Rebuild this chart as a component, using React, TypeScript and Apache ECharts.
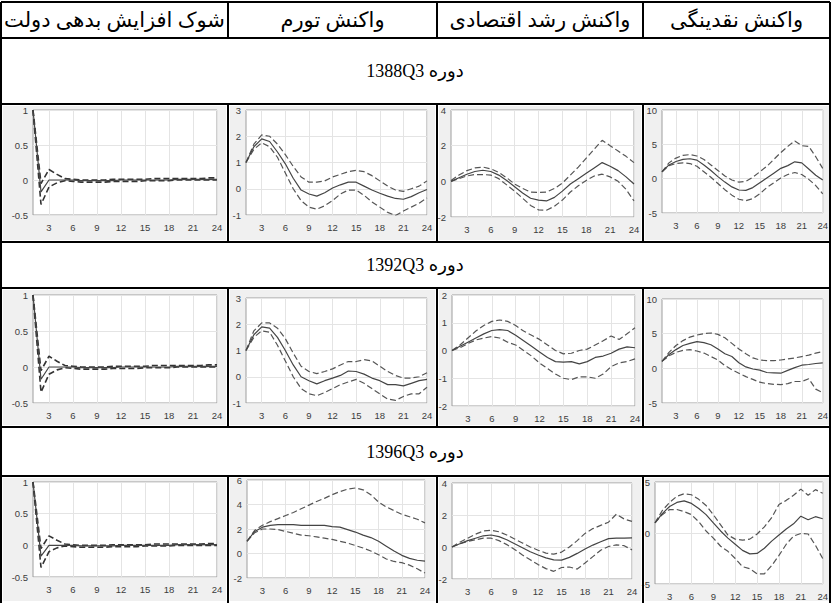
import React, { useEffect, useRef } from "react";
import * as echarts from "echarts";

// ---------- text ----------
const headers = ["شوک افزایش بدهی دولت", "واکنش تورم", "واکنش رشد اقتصادی", "واکنش نقدینگی"];
const periods = ["1388Q3", "1392Q3", "1396Q3"];
const periodWord = "دوره";
const horizons = ["1","2","3","4","5","6","7","8","9","10","11","12","13","14","15","16","17","18","19","20","21","22","23","24"];

// ---------- data ----------
const debtShockMid = [1, -0.17, 0, 0, 0, 0, -0.01, -0.01, -0.01, -0.01, -0.01, 0, 0, 0, 0, 0, 0, 0, 0.01, 0.01, 0.01, 0.01, 0.01, 0.01];
const debtShockLo = [1, -0.35, -0.1, -0.04, -0.01, -0.02, -0.03, -0.03, -0.03, -0.03, -0.02, -0.02, -0.02, -0.02, -0.01, -0.01, -0.01, -0.01, 0, 0, 0, 0, 0, 0];
const debtShockHi = [1, -0.05, 0.15, 0.08, 0.02, 0.01, 0, 0, 0, 0, 0.01, 0.01, 0.01, 0.01, 0.01, 0.02, 0.02, 0.02, 0.02, 0.02, 0.02, 0.02, 0.03, 0.03];

const inflation1388Mid = [1.0, 1.6, 1.9, 1.8, 1.4, 0.95, 0.4, -0.05, -0.2, -0.28, -0.15, 0.03, 0.15, 0.25, 0.25, 0.1, -0.05, -0.17, -0.28, -0.37, -0.4, -0.3, -0.15, -0.03];
const inflation1388Hi = [1.0, 1.7, 2.05, 2.0, 1.7, 1.3, 0.85, 0.45, 0.25, 0.25, 0.3, 0.45, 0.55, 0.65, 0.7, 0.65, 0.5, 0.3, 0.1, -0.05, -0.1, 0.0, 0.1, 0.3];
const inflation1388Lo = [1.0, 1.5, 1.75, 1.6, 1.2, 0.6, 0.0, -0.45, -0.7, -0.78, -0.65, -0.45, -0.2, -0.05, -0.05, -0.25, -0.5, -0.7, -0.9, -1.02, -0.85, -0.7, -0.55, -0.35];

const growth1388Mid = [0.0, 0.2, 0.4, 0.55, 0.62, 0.55, 0.35, 0.05, -0.3, -0.65, -0.95, -1.05, -1.1, -0.9, -0.55, -0.15, 0.15, 0.45, 0.75, 1.05, 0.85, 0.6, 0.25, -0.15];
const growth1388Hi = [0.05, 0.35, 0.6, 0.75, 0.8, 0.7, 0.5, 0.2, -0.15, -0.4, -0.6, -0.62, -0.6, -0.4, -0.1, 0.35, 0.8, 1.3, 1.8, 2.3, 2.0, 1.7, 1.4, 1.05];
const growth1388Lo = [0, 0.15, 0.3, 0.38, 0.38, 0.35, 0.15, -0.2, -0.55, -0.95, -1.35, -1.6, -1.62, -1.4, -1.05, -0.6, -0.25, 0.05, 0.3, 0.4, 0.25, 0.0, -0.45, -1.1];

const liquidity1388Mid = [1.0, 2.0, 2.5, 2.8, 2.9, 2.7, 2.0, 1.2, 0.3, -0.5, -1.2, -1.65, -1.7, -1.3, -0.6, 0.1, 0.8, 1.5, 1.9, 2.45, 2.3, 1.4, 0.5, -0.2];
const liquidity1388Hi = [1.0, 2.3, 3.0, 3.4, 3.5, 3.3, 2.8, 2.0, 1.2, 0.4, -0.2, -0.5, -0.4, 0.2, 1.0, 1.8, 2.8, 3.8, 4.7, 5.5, 4.8, 4.7, 3.2, 1.5];
const liquidity1388Lo = [1.0, 1.9, 2.2, 2.3, 2.2, 1.8, 1.0, 0.2, -0.7, -1.6, -2.4, -3.0, -3.2, -2.9, -2.2, -1.3, -0.6, 0.1, 0.6, 0.9, 0.6, -0.1, -1.0, -2.2];

const inflation1392Mid = [1.0, 1.6, 1.9, 1.85, 1.5, 1.0, 0.45, 0.0, -0.15, -0.27, -0.15, -0.05, 0.05, 0.22, 0.2, 0.1, -0.05, -0.15, -0.3, -0.3, -0.35, -0.25, -0.15, -0.1];
const inflation1392Hi = [1.0, 1.75, 2.05, 2.05, 1.85, 1.45, 0.9, 0.4, 0.2, 0.12, 0.2, 0.3, 0.45, 0.58, 0.58, 0.65, 0.6, 0.4, 0.2, 0.05, -0.05, -0.05, 0.0, 0.15];
const inflation1392Lo = [1.0, 1.5, 1.75, 1.7, 1.2, 0.6, 0.0, -0.45, -0.65, -0.72, -0.6, -0.45, -0.3, -0.2, -0.1, -0.25, -0.45, -0.65, -0.85, -0.9, -0.75, -0.65, -0.65, -0.4];

const growth1392Mid = [0, 0.15, 0.3, 0.45, 0.6, 0.72, 0.75, 0.72, 0.55, 0.35, 0.15, -0.05, -0.25, -0.4, -0.42, -0.4, -0.48, -0.4, -0.25, -0.2, -0.1, 0.05, 0.13, 0.1];
const growth1392Hi = [0, 0.2, 0.45, 0.7, 0.9, 1.05, 1.1, 1.05, 0.9, 0.7, 0.55, 0.4, 0.2, 0.0, -0.12, -0.1, 0.0, 0.05, 0.2, 0.35, 0.52, 0.4, 0.6, 0.82];
const growth1392Lo = [0, 0.1, 0.25, 0.38, 0.45, 0.5, 0.45, 0.3, 0.2, 0.0, -0.2, -0.45, -0.65, -0.85, -1.0, -1.05, -0.95, -0.95, -1.0, -0.85, -0.58, -0.45, -0.4, -0.3];

const liquidity1392Mid = [1.0, 2.0, 2.7, 3.3, 3.6, 3.85, 3.7, 3.4, 2.8, 2.1, 1.7, 0.8, 0.2, -0.1, -0.25, -0.6, -0.65, -0.7, -0.3, 0.1, 0.45, 0.55, 0.7, 0.8];
const liquidity1392Hi = [1.0, 2.3, 3.3, 4.0, 4.5, 4.8, 5.0, 5.1, 4.9, 4.4, 3.6, 2.8, 2.1, 1.5, 1.2, 1.1, 1.1, 1.2, 1.35, 1.5, 1.7, 1.9, 2.2, 2.4];
const liquidity1392Lo = [1.0, 1.8, 2.3, 2.6, 2.7, 2.5, 2.2, 1.7, 1.2, 0.4, -0.2, -0.7, -1.2, -1.6, -2.0, -2.2, -2.3, -2.35, -2.2, -1.9, -1.9, -1.5, -3.0, -3.5];

const inflation1396Mid = [1.0, 1.8, 2.15, 2.3, 2.35, 2.35, 2.35, 2.3, 2.3, 2.3, 2.3, 2.2, 2.15, 1.95, 1.75, 1.5, 1.3, 1.0, 0.6, 0.2, -0.15, -0.4, -0.55, -0.62];
const inflation1396Hi = [1.0, 1.9, 2.3, 2.6, 2.85, 3.1, 3.35, 3.65, 3.95, 4.25, 4.5, 4.8, 5.05, 5.25, 5.35, 5.2, 4.8, 4.2, 3.8, 3.5, 3.2, 3.0, 2.8, 2.5];
const inflation1396Lo = [1.0, 1.7, 2.0, 2.0, 1.95, 1.8, 1.65, 1.5, 1.45, 1.35, 1.25, 1.15, 1.0, 0.85, 0.65, 0.45, 0.2, -0.1, -0.45, -0.65, -0.75, -0.95, -1.25, -1.6];

const growth1396Mid = [0.0, 0.2, 0.4, 0.55, 0.7, 0.75, 0.65, 0.45, 0.2, -0.05, -0.3, -0.5, -0.68, -0.8, -0.82, -0.65, -0.4, -0.12, 0.12, 0.33, 0.52, 0.55, 0.55, 0.57];
const growth1396Hi = [0, 0.3, 0.55, 0.8, 1.0, 1.05, 0.95, 0.75, 0.5, 0.25, 0.0, -0.2, -0.38, -0.45, -0.32, 0.0, 0.4, 0.85, 1.15, 1.35, 1.55, 2.05, 1.75, 1.6];
const growth1396Lo = [0, 0.2, 0.35, 0.45, 0.55, 0.55, 0.4, 0.15, -0.15, -0.5, -0.8, -1.1, -1.35, -1.52, -1.28, -1.25, -1.38, -1.0, -0.6, -0.2, 0.03, 0.13, 0.08, -0.18];

const liquidity1396Mid = [1.0, 1.9, 2.6, 3.0, 3.15, 2.9, 2.4, 1.8, 1.0, 0.2, -0.5, -1.1, -1.7, -2.05, -2.0, -1.5, -0.8, -0.2, 0.4, 0.9, 1.65, 1.3, 1.6, 1.4];
const liquidity1396Hi = [1.0, 2.2, 3.0, 3.6, 3.85, 3.75, 3.3, 2.7, 1.8, 0.8, -0.2, -0.6, -0.7, -0.6, -0.1, 0.6, 1.5, 2.8, 3.2, 3.7, 4.3, 3.7, 4.25, 3.9];
const liquidity1396Lo = [1.0, 1.8, 2.3, 2.3, 2.1, 1.8, 1.1, 0.2, -0.5, -1.3, -1.8, -2.5, -3.3, -3.5, -4.0, -4.0, -3.2, -2.2, -1.1, -0.3, -0.05, -0.1, -1.2, -2.5];

// y ranges [min, max, interval]
const yDebt = [-0.5, 1, 0.5];
const yInfA = [-1, 3, 1];
const yInfB = [-2, 6, 2];
const yGrowA = [-2, 4, 2];
const yGrowB = [-2, 2, 1];
const yLiqA = [-5, 10, 5];
const yLiqB = [-5, 5, 5];

const panels = [
  [
    { mid: debtShockMid, lo: debtShockLo, hi: debtShockHi, y: yDebt },
    { mid: inflation1388Mid, lo: inflation1388Lo, hi: inflation1388Hi, y: yInfA },
    { mid: growth1388Mid, lo: growth1388Lo, hi: growth1388Hi, y: yGrowA },
    { mid: liquidity1388Mid, lo: liquidity1388Lo, hi: liquidity1388Hi, y: yLiqA },
  ],
  [
    { mid: debtShockMid, lo: debtShockLo, hi: debtShockHi, y: yDebt },
    { mid: inflation1392Mid, lo: inflation1392Lo, hi: inflation1392Hi, y: yInfA },
    { mid: growth1392Mid, lo: growth1392Lo, hi: growth1392Hi, y: yGrowB },
    { mid: liquidity1392Mid, lo: liquidity1392Lo, hi: liquidity1392Hi, y: yLiqA },
  ],
  [
    { mid: debtShockMid, lo: debtShockLo, hi: debtShockHi, y: yDebt },
    { mid: inflation1396Mid, lo: inflation1396Lo, hi: inflation1396Hi, y: yInfB },
    { mid: growth1396Mid, lo: growth1396Lo, hi: growth1396Hi, y: yGrowA },
    { mid: liquidity1396Mid, lo: liquidity1396Lo, hi: liquidity1396Hi, y: yLiqB },
  ],
];

// ---------- layout (page pixels) ----------
const W = 831;
const H = 603;
const tableL = 1;
const tableR = 830;
const tableTop = 2;
const headerBottom = 38;
const colX = [228, 437, 643];
const rowBands = [
  { top: 104, bottom: 242 },
  { top: 288, bottom: 427 },
  { top: 476, bottom: 603 },
];
const periodBands = [
  { top: 38, bottom: 104 },
  { top: 242, bottom: 288 },
  { top: 427, bottom: 476 },
];
const cellX = [[3, 226], [230, 435], [439, 641], [645, 831]];
const plotRects = [
  [[33, 110, 217, 215], [246, 110, 427, 215], [451, 110, 634, 217], [662, 110, 835, 213]],
  [[33, 295, 217, 403], [246, 298, 427, 403], [452, 295, 635, 406], [662, 299, 835, 403]],
  [[33, 482, 217, 577], [247, 480, 425, 578], [452, 483, 632, 579], [655, 482, 831, 584]],
];

const tickEvery3 = (idx: number) => (idx + 1) % 3 === 0;
const tickFont = "'Liberation Sans', Arial, sans-serif";
const tableFont = "'Liberation Serif', 'DejaVu Sans', serif";

function buildOption() {
  const grid: any[] = [];
  const xAxis: any[] = [];
  const yAxis: any[] = [];
  const series: any[] = [];
  panels.forEach((row, r) => {
    row.forEach((p, c) => {
      const i = r * 4 + c;
      const [l, t, rr, b] = plotRects[r][c];
      grid.push({
        left: l, top: t, width: rr - l, height: b - t,
        show: true, backgroundColor: "#ffffff", borderColor: "#9e9e9e", borderWidth: 1,
      });
      xAxis.push({
        gridIndex: i, type: "category", data: horizons, boundaryGap: false,
        axisLine: { show: false }, axisTick: { show: false },
        axisLabel: { interval: tickEvery3, fontSize: 9.5, color: "#3c3c3c", fontFamily: tickFont, margin: 7 },
        splitLine: { show: true, interval: tickEvery3, lineStyle: { color: "#e4e4e4", width: 1 } },
      });
      yAxis.push({
        gridIndex: i, type: "value", min: p.y[0], max: p.y[1], interval: p.y[2],
        axisLine: { show: false }, axisTick: { show: false },
        axisLabel: { fontSize: 9.5, color: "#3c3c3c", fontFamily: tickFont, margin: 5 },
        splitLine: { show: true, lineStyle: { color: "#e4e4e4", width: 1 } },
      });
      const dashColor = c === 0 ? "#333333" : "#555555";
      const dashWidth = c === 0 ? 1.6 : 1.2;
      series.push(
        { type: "line", xAxisIndex: i, yAxisIndex: i, data: p.hi, symbol: "none", silent: true,
          lineStyle: { color: dashColor, width: dashWidth, type: [6, 3] } },
        { type: "line", xAxisIndex: i, yAxisIndex: i, data: p.lo, symbol: "none", silent: true,
          lineStyle: { color: dashColor, width: dashWidth, type: [6, 3] } },
        { type: "line", xAxisIndex: i, yAxisIndex: i, data: p.mid, symbol: "none", silent: true,
          lineStyle: { color: "#444444", width: 1.2 } },
      );
    });
  });

  const lineStyle = { stroke: "#000000", lineWidth: 2 };
  const graphics: any[] = [];
  const hLine = (y: number) => graphics.push({ type: "line", z: 100, shape: { x1: tableL, y1: y, x2: tableR, y2: y }, style: lineStyle, silent: true });
  const vLine = (x: number, y1: number, y2: number) => graphics.push({ type: "line", z: 100, shape: { x1: x, y1, x2: x, y2 }, style: lineStyle, silent: true });
  [tableTop, headerBottom, ...rowBands.flatMap((b) => [b.top, b.bottom]).filter((y) => y < H)].forEach(hLine);
  vLine(tableL, tableTop, H);
  vLine(tableR, tableTop, H);
  colX.forEach((x) => {
    vLine(x, tableTop, headerBottom);
    rowBands.forEach((b) => vLine(x, b.top, b.bottom));
  });

  const colEdges = [tableL, ...colX, tableR];
  headers.forEach((h, c) => {
    graphics.push({
      type: "text", z: 100, silent: true,
      x: (colEdges[c] + colEdges[c + 1]) / 2, y: (tableTop + headerBottom) / 2,
      style: { text: h, fontSize: 21, fontFamily: tableFont, fill: "#000", align: "center", verticalAlign: "middle" },
    });
  });
  periods.forEach((p, r) => {
    graphics.push({
      type: "text", z: 100, silent: true,
      x: 415, y: (periodBands[r].top + periodBands[r].bottom) / 2,
      style: { text: p + " " + periodWord, fontSize: 18, fontFamily: tableFont, fill: "#000", align: "center", verticalAlign: "middle" },
    });
  });

  return { animation: false, grid, xAxis, yAxis, series, graphic: graphics };
}

export default function App() {
  const ref = useRef<HTMLDivElement>(null);
  useEffect(() => {
    const chart = echarts.init(ref.current!, null, { renderer: "svg", width: W, height: H });
    chart.setOption(buildOption());
    return () => chart.dispose();
  }, []);
  return (
    <div style={{ position: "absolute", left: 0, top: 0, width: W, height: H, background: "#ffffff", overflow: "hidden" }}>
      {rowBands.map((b, r) =>
        cellX.map(([x0, x1], c) => (
          <div key={r + "-" + c} style={{ position: "absolute", left: x0, top: b.top + 2, width: x1 - x0, height: Math.min(b.bottom, H) - b.top - 4, background: "#f0f0f0" }} />
        ))
      )}
      <div ref={ref} style={{ position: "absolute", left: 0, top: 0, width: W, height: H }} />
    </div>
  );
}
